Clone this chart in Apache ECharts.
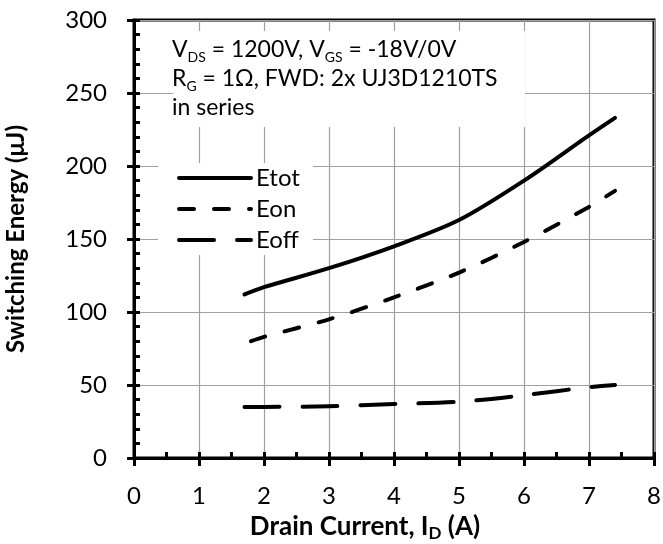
<!DOCTYPE html>
<html>
<head>
<meta charset="utf-8">
<script src="https://cdn.jsdelivr.net/npm/echarts@6/dist/echarts.min.js"></script>
<style>html,body{margin:0;padding:0;background:#fff;}#c{width:663px;height:544px;}</style>
</head>
<body>
<div id="c"></div>
<script>
var xEtot = [1.7, 2, 3, 4, 5, 6, 7, 7.4];
var yEtot = [112, 117, 130, 145, 163, 190, 221, 233];
var xEon = [1.8, 2, 3, 4, 5, 6, 7, 7.4];
var yEon = [80, 83, 95, 110, 127, 148, 172, 183];
var xEoff = [1.7, 2, 3, 4, 5, 6, 7, 7.4];
var yEoff = [35, 35, 35.5, 37, 38.5, 43, 48.5, 50];
var xTicks = [0, 1, 2, 3, 4, 5, 6, 7, 8];
var yTicks = [0, 50, 100, 150, 200, 250, 300];
var names = ['Etot', 'Eon', 'Eoff'];

function pairs(xs, ys) { return xs.map(function (x, i) { return [x, ys[i]]; }); }

var FONT = 'Lato';
var chart = echarts.init(document.getElementById('c'));
var gridL = 134, gridR = 9, gridT = 20, gridB = 86;

var baseX = {
  type: 'value', min: xTicks[0], max: xTicks[xTicks.length - 1], interval: 1,
  position: 'bottom'
};
var baseY = {
  type: 'value', min: yTicks[0], max: yTicks[yTicks.length - 1], interval: 50,
  position: 'left'
};

var option = {
  animation: false,
  backgroundColor: '#fff',
  grid: { left: gridL, right: gridR, top: gridT, bottom: gridB, show: true, borderColor: '#000', borderWidth: 3,
          backgroundColor: 'transparent', containLabel: false, outerBoundsMode: 'none' },
  xAxis: [
    Object.assign({}, baseX, {
      name: '{b|Drain Current, I}{s|D}{b| (A)}',
      nameLocation: 'middle', nameGap: 54,
      nameTextStyle: { padding: [0, 58, 0, 0], rich: {
        b: { fontFamily: FONT, fontWeight: 'bold', fontSize: 26, color: '#000', lineHeight: 30 },
        s: { fontFamily: FONT, fontWeight: 'bold', fontSize: 17, color: '#000', lineHeight: 18, verticalAlign: 'bottom' }
      } },
      axisLine: { onZero: false, lineStyle: { color: '#000', width: 3 } },
      axisTick: { show: true, inside: false, length: 8, lineStyle: { color: '#000', width: 3 } },
      axisLabel: { fontFamily: FONT, fontSize: 24, color: '#000', margin: 26 },
      splitLine: { show: true, lineStyle: { color: '#a0a0a0', width: 1.2 } }
    }),
    Object.assign({}, baseX, {
      axisLine: { show: false, onZero: false },
      axisTick: { show: true, inside: true, length: 6, lineStyle: { color: '#000', width: 3 } },
      minorTick: { show: true, splitNumber: 2, length: 6, lineStyle: { color: '#000', width: 3 } },
      axisLabel: { show: false },
      splitLine: { show: false }
    })
  ],
  yAxis: [
    Object.assign({}, baseY, {
      name: 'Switching Energy (μJ)',
      nameLocation: 'middle', nameGap: 106, nameRotate: 90,
      nameTextStyle: { fontFamily: FONT, fontWeight: 'bold', fontSize: 24, color: '#000' },
      axisLine: { onZero: false, lineStyle: { color: '#000', width: 3 } },
      axisTick: { show: true, inside: false, length: 7, lineStyle: { color: '#000', width: 3 } },
      axisLabel: { fontFamily: FONT, fontSize: 24, color: '#000', margin: 27 },
      splitLine: { show: true, lineStyle: { color: '#a0a0a0', width: 1.2 } }
    }),
    Object.assign({}, baseY, {
      axisLine: { show: false, onZero: false },
      axisTick: { show: true, inside: true, length: 6, lineStyle: { color: '#000', width: 3 } },
      minorTick: { show: true, splitNumber: 5, length: 6, lineStyle: { color: '#000', width: 3 } },
      axisLabel: { show: false },
      splitLine: { show: false }
    })
  ],
  legend: {
    orient: 'vertical', left: 172, top: 161, itemGap: 7,
    itemWidth: 72, itemHeight: 14,
    data: names,
    textStyle: { fontFamily: FONT, fontSize: 24, color: '#000' },
    itemStyle: { opacity: 0 },
    lineStyle: { width: 4, cap: 'round', opacity: 1 },
    backgroundColor: 'transparent'
  },
  graphic: [
    { type: 'rect', z: 1, shape: { x: 173, y: 31, width: 352, height: 96 }, style: { fill: '#fff' }, silent: true },
    { type: 'rect', z: 1, shape: { x: 158, y: 163, width: 155, height: 92 }, style: { fill: '#fff' }, silent: true },
    { type: 'text', z: 5, left: 172, top: 38, silent: true,
      style: {
        text: '{n|V}{s|DS}{n| = 1200V, V}{s|GS}{n| = -18V/0V}\n{n|R}{s|G}{n| = 1Ω, FWD: 2x UJ3D1210TS}\n{n|in series}',
        rich: {
          n: { fontFamily: FONT, fontSize: 23, fill: '#000', lineHeight: 29 },
          s: { fontFamily: FONT, fontSize: 14, fill: '#000', lineHeight: 17, verticalAlign: 'bottom' }
        }
      }
    }
  ],
  series: [
    { name: names[0], type: 'line', smooth: 0.3, symbol: 'none', xAxisIndex: 0, yAxisIndex: 0, z: 3,
      data: pairs(xEtot, yEtot),
      lineStyle: { color: '#000', width: 4, type: 'solid', cap: 'round', join: 'round' }, itemStyle: { color: '#000' } },
    { name: names[1], type: 'line', smooth: 0.3, symbol: 'none', xAxisIndex: 0, yAxisIndex: 0, z: 3,
      data: pairs(xEon, yEon),
      lineStyle: { color: '#000', width: 4, type: [15, 20], cap: 'round', join: 'round' }, itemStyle: { color: '#000' } },
    { name: names[2], type: 'line', smooth: 0.3, symbol: 'none', xAxisIndex: 0, yAxisIndex: 0, z: 3,
      data: pairs(xEoff, yEoff),
      lineStyle: { color: '#000', width: 4, type: [35, 23], cap: 'round', join: 'round' }, itemStyle: { color: '#000' } }
  ]
};
chart.setOption(option);
</script>
</body>
</html>
